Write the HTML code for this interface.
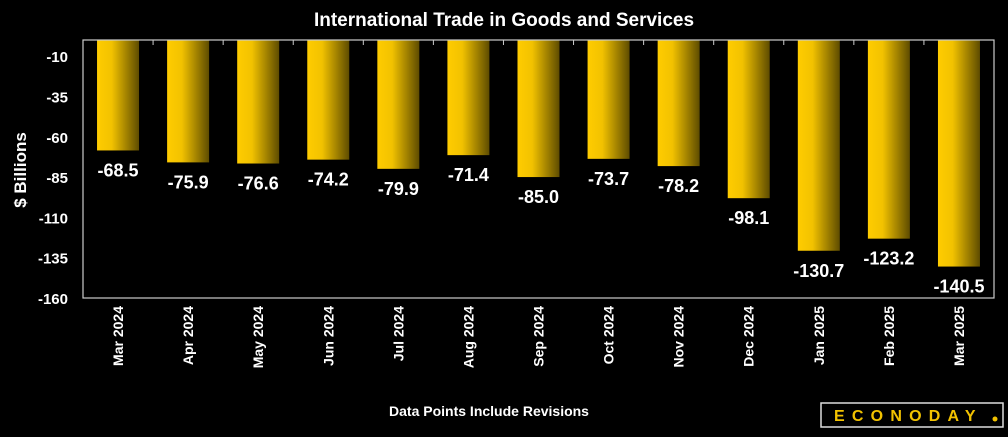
<!DOCTYPE html>
<html><head><meta charset="utf-8"><style>
body{margin:0;background:#000;width:1008px;height:432px;overflow:hidden;font-family:"Liberation Sans",sans-serif}
</style></head><body>
<svg width="1008" height="432" id="c">
<defs><linearGradient id="g" x1="0" x2="1" y1="0" y2="0">
<stop offset="0" stop-color="#ffcc00"/><stop offset="0.35" stop-color="#f2c200"/><stop offset="1" stop-color="#5e4c00"/></linearGradient></defs>
<text x="504" y="26" fill="#fff" font-size="19" font-weight="bold" text-anchor="middle">International Trade in Goods and Services</text>
<text transform="translate(26,170) rotate(-90)" fill="#fff" font-size="17" font-weight="bold" text-anchor="middle">$ Billions</text>
<text x="489" y="416" fill="#fff" font-size="14" font-weight="bold" text-anchor="middle">Data Points Include Revisions</text>
<g>
<rect x="821" y="403" width="182" height="24" fill="#000" stroke="#ddd" stroke-width="1.5"/>
<text x="834" y="421" fill="#f2c200" font-size="16" font-weight="bold" letter-spacing="8.5" textLength="150" lengthAdjust="spacing">ECONODAY</text>
<circle cx="995" cy="419" r="2.5" fill="#f2c200"/>
</g>
<g id="plot"></g>
</svg>
<script>
const categories=["Mar 2024","Apr 2024","May 2024","Jun 2024","Jul 2024","Aug 2024","Sep 2024","Oct 2024","Nov 2024","Dec 2024","Jan 2025","Feb 2025","Mar 2025"];
const values=[-68.5,-75.9,-76.6,-74.2,-79.9,-71.4,-85.0,-73.7,-78.2,-98.1,-130.7,-123.2,-140.5];
const yTicks=[-10,-35,-60,-85,-110,-135,-160];
const L=83,R=994,T=40,B=298,yMax=0,yMin=-160;
const ns="http://www.w3.org/2000/svg";
const g=document.getElementById('plot');
const slot=(R-L)/categories.length;
const y=v=>T+(yMax-v)/(yMax-yMin)*(B-T);
const x=i=>L+slot*(i+0.5);
function mk(t,a){const e=document.createElementNS(ns,t);for(const k in a)e.setAttribute(k,a[k]);g.appendChild(e);return e;}
yTicks.forEach(v=>{const t=mk('text',{x:68,y:y(v)+6,fill:'#fff','font-size':15,'font-weight':'bold','text-anchor':'end'});t.textContent=v;

});
values.forEach((v,i)=>{
const r=mk('rect',{x:x(i)-21,y:y(0),width:42,height:y(v)-y(0),fill:'url(#g)'});


const t=mk('text',{x:x(i),y:y(v)+26,fill:'#fff','font-size':18,'font-weight':'bold','text-anchor':'middle'});t.textContent=v.toFixed(1);


const c=mk('text',{transform:`translate(${x(i)+5},306) rotate(-90)`,fill:'#fff','font-size':14,'font-weight':'bold','text-anchor':'end'});c.textContent=categories[i];


if(i>0){const tk=mk('line',{x1:L+slot*i,x2:L+slot*i,y1:T,y2:T+5,stroke:'#ccc','stroke-width':1});

}
});
const f=mk('rect',{x:L,y:T,width:R-L,height:B-T,fill:'none',stroke:'#ccc','stroke-width':1.2});


</script>
</body></html>
